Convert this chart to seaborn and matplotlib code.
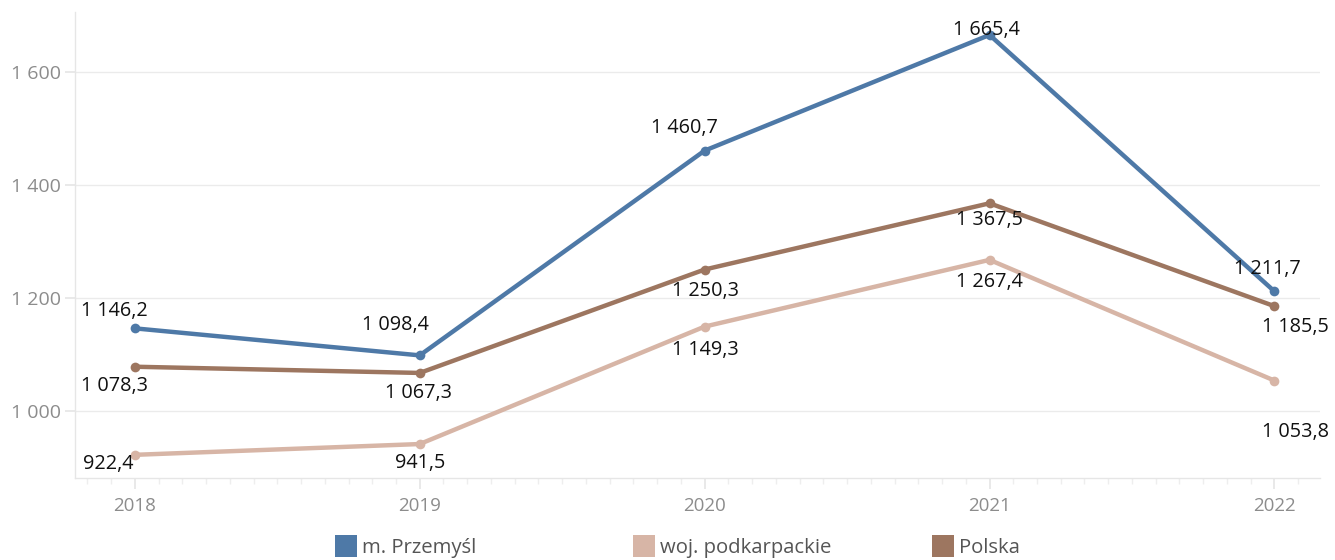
import matplotlib
matplotlib.use("Agg")
import matplotlib.pyplot as plt
import seaborn as sns
import pandas as pd
from matplotlib.ticker import FixedLocator, MultipleLocator, FuncFormatter
from matplotlib.lines import Line2D

years = [2018, 2019, 2020, 2021, 2022]
series_names = ["m. Przemyśl", "woj. podkarpackie", "Polska"]
przemysl = [1146.2, 1098.4, 1460.7, 1665.4, 1211.7]
podkarpackie = [922.4, 941.5, 1149.3, 1267.4, 1053.8]
polska = [1078.3, 1067.3, 1250.3, 1367.5, 1185.5]
y_ticks = [1000, 1200, 1400, 1600]

colors = {"m. Przemyśl": "#4E79A7", "woj. podkarpackie": "#D7B5A6", "Polska": "#9D7660"}

df = pd.DataFrame({
    "year": years * 3,
    "value": przemysl + podkarpackie + polska,
    "series": [series_names[0]] * 5 + [series_names[1]] * 5 + [series_names[2]] * 5,
})

sns.set_theme(style="white")
plt.rcParams["font.family"] = ["Open Sans", "DejaVu Sans"]

fig = plt.figure(figsize=(13.35, 5.6), dpi=100)
ax = fig.add_axes([75 / 1335, 1 - 478 / 560, (1320 - 75) / 1335, (478 - 12) / 560])

# draw order: pink, brown, blue on top
for name in ["woj. podkarpackie", "Polska", "m. Przemyśl"]:
    sub = df[df["series"] == name]
    sns.lineplot(data=sub, x="year", y="value", color=colors[name], linewidth=3.2,
                 marker="o", markersize=7, markeredgewidth=0, ax=ax, legend=False)

ax.set_xlim(2017.79, 2022.16)
ax.set_ylim(881.4, 1706)

def fmt_num(v, dec=1):
    s = f"{v:,.{dec}f}"
    return s.replace(",", " ").replace(".", ",")

# label offsets in pixels (dx, dy) relative to point
offsets = {
    "m. Przemyśl": [(-20, 17), (-24, 30), (-20, 23), (-3, 5), (-7, 22)],
    "Polska": [(-20, -19), (-1, -20), (1, -21), (0, -17), (21, -21)],
    "woj. podkarpackie": [(-27, -9), (0, -19), (1, -23), (0, -22), (21, -51)],
}
vals = {"m. Przemyśl": przemysl, "woj. podkarpackie": podkarpackie, "Polska": polska}
for name in series_names:
    for x, v, (dx, dy) in zip(years, vals[name], offsets[name]):
        ax.annotate(fmt_num(v), (x, v), xytext=(dx, dy), textcoords="offset pixels",
                    ha="center", va="center", fontsize=14.3, color="#111111")

ax.yaxis.set_major_locator(FixedLocator(y_ticks))
ax.yaxis.set_major_formatter(FuncFormatter(lambda v, p: fmt_num(v, 0)))
ax.xaxis.set_major_locator(FixedLocator(years))
ax.xaxis.set_minor_locator(MultipleLocator(1 / 12))
ax.xaxis.set_major_formatter(FuncFormatter(lambda v, p: f"{int(round(v))}"))

ax.grid(axis="y", color="#EBEBEB", linewidth=1)
ax.grid(axis="x", visible=False)
for s in ["top", "right"]:
    ax.spines[s].set_visible(False)
for s in ["left", "bottom"]:
    ax.spines[s].set_color("#E6E6E6")
    ax.spines[s].set_linewidth(1)

ax.tick_params(axis="y", which="major", length=7, color="#E6E6E6", labelsize=14,
               labelcolor="#8C8C8C", pad=3, left=True)
ax.tick_params(axis="x", which="major", length=8, color="#E6E6E6", labelsize=13.5,
               labelcolor="#8C8C8C", pad=6, bottom=True)
ax.tick_params(axis="x", which="minor", length=4, color="#EEEEEE", bottom=True)
ax.set_xlabel("")
ax.set_ylabel("")

# legend: three separate entries at fixed positions
legend_x = [335, 633, 932]
for name, lx in zip(series_names, legend_x):
    h = Line2D([], [], marker="s", linestyle="none", markersize=16.5,
               markerfacecolor=colors[name], markeredgewidth=0)
    fig.legend([h], [name], loc="center left", bbox_to_anchor=(lx / 1335, 1 - 548 / 560),
               frameon=False, fontsize=14.6, labelcolor="#555555", handletextpad=0.3,
               borderpad=0, borderaxespad=0, handlelength=1.05)

fig.savefig("out.png", dpi=100)
